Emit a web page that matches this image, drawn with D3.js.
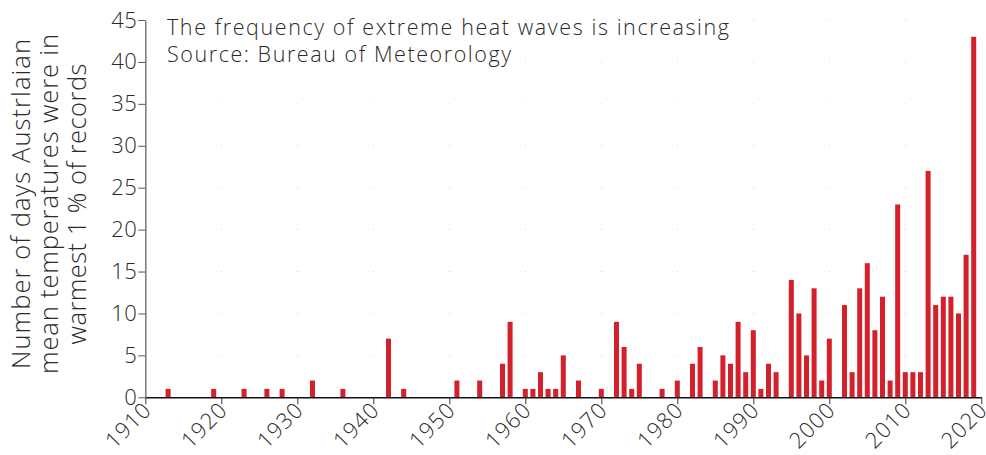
<!DOCTYPE html>
<html><head><meta charset="utf-8">
<script src="https://cdn.jsdelivr.net/npm/d3@7"></script>
<style>
body{margin:0;background:#fff;}
svg text{font-family:"Open Sans","Lato",sans-serif;font-weight:300;fill:#2a2a2a;}
</style></head><body>
<svg id="c" width="986" height="455"></svg>
<script>
const years = d3.range(1910, 2020);
const days = [
 0,0,0,1,0,0,0,0,0,1, // 1910-1919
 0,0,0,1,0,0,1,0,1,0, // 1920-1929
 0,0,2,0,0,0,1,0,0,0, // 1930-1939
 0,0,7,0,1,0,0,0,0,0, // 1940-1949
 0,2,0,0,2,0,0,4,9,0, // 1950-1959
 1,1,3,1,1,5,0,2,0,0, // 1960-1969
 1,0,9,6,1,4,0,0,1,0, // 1970-1979
 2,0,4,6,0,2,5,4,9,3, // 1980-1989
 8,1,4,3,0,14,10,5,13,2, // 1990-1999
 7,0,11,3,13,16,8,12,2,23, // 2000-2009
 3,3,3,27,11,12,12,10,17,43 // 2010-2019
];
const xTicks = d3.range(1910, 2021, 10);
const yTicks = d3.range(0, 46, 5);
const titleLines = ["The frequency of extreme heat waves is increasing", "Source: Bureau of Meteorology"];
const titleWidths = [562, 344];
const yTitle = ["Number of days Austrlaian", "mean temperatures were in", "warmest 1 % of records"];
const yTitleWidths = [330, 340, 281];

const svg = d3.select("#c");
const x = d3.scaleLinear().domain([1910, 2020]).range([145.3, 981.3]);
const y = d3.scaleLinear().domain([0, 45]).range([397.3, 20]);

// faint grid dots at intersections
const pts = [];
xTicks.slice(1, -1).forEach(a => yTicks.slice(1).forEach(b => pts.push([a, b])));
svg.append("g").selectAll("rect").data(pts).join("rect")
  .attr("x", d=>x(d[0])-0.5).attr("y", d=>y(d[1])-0.5).attr("width",1).attr("height",1)
  .attr("fill", "#d0d0d0");

// bars
const bw = 5;
svg.append("g").selectAll("rect").data(years.map((yr,i)=>({yr, v: days[i]})).filter(d=>d.v>0)).join("rect")
  .attr("x", d=>x(d.yr)-bw/2).attr("width", bw)
  .attr("y", d=>y(d.v)).attr("height", d=>y(0)-y(d.v))
  .attr("fill", "#d4202a");

// x axis
const xa = svg.append("g").attr("transform", `translate(0,${y(0)})`)
  .call(d3.axisBottom(x).tickValues(xTicks).tickFormat(d3.format("d")).tickSize(7).tickSizeOuter(0));
xa.select(".domain").attr("stroke", "#111").attr("stroke-width", 1.5);
xa.selectAll(".tick line").attr("stroke", "#333");
xa.selectAll(".tick text").attr("font-size", 22).attr("text-anchor", "end")
  .attr("dy", null).attr("y", 0).attr("letter-spacing", 1)
  .attr("transform", "translate(7,14) rotate(-45)");

// y axis
const ya = svg.append("g").attr("transform", `translate(${x(1910)},0)`)
  .call(d3.axisLeft(y).tickValues(yTicks).tickSize(7).tickSizeOuter(0));
ya.select(".domain").attr("stroke", "#777").attr("stroke-width", 1.5);
ya.selectAll(".tick line").attr("stroke", "#555");
ya.selectAll(".tick text").attr("font-size", 22).attr("x", -8).attr("letter-spacing", 0.5);
svg.selectAll(".tick text").style("fill", "#2a2a2a").attr("font-family", null);

// y title
const yt = svg.append("text").attr("transform", "translate(0,204) rotate(-90)")
  .attr("text-anchor", "middle").attr("font-size", 25.5);
yt.selectAll("tspan").data(yTitle).join("tspan")
  .attr("x", 0).attr("y", (d,i)=>30 + i*28)
  .attr("textLength", (d,i)=>yTitleWidths[i]).attr("lengthAdjust", "spacing").text(d=>d);

// title
const tt = svg.append("text").attr("font-size", 21.5);
tt.selectAll("tspan").data(titleLines).join("tspan")
  .attr("x", 167).attr("y", (d,i)=>34.5 + i*27)
  .attr("textLength", (d,i)=>titleWidths[i]).attr("lengthAdjust", "spacing").text(d=>d);
</script>
</body></html>
